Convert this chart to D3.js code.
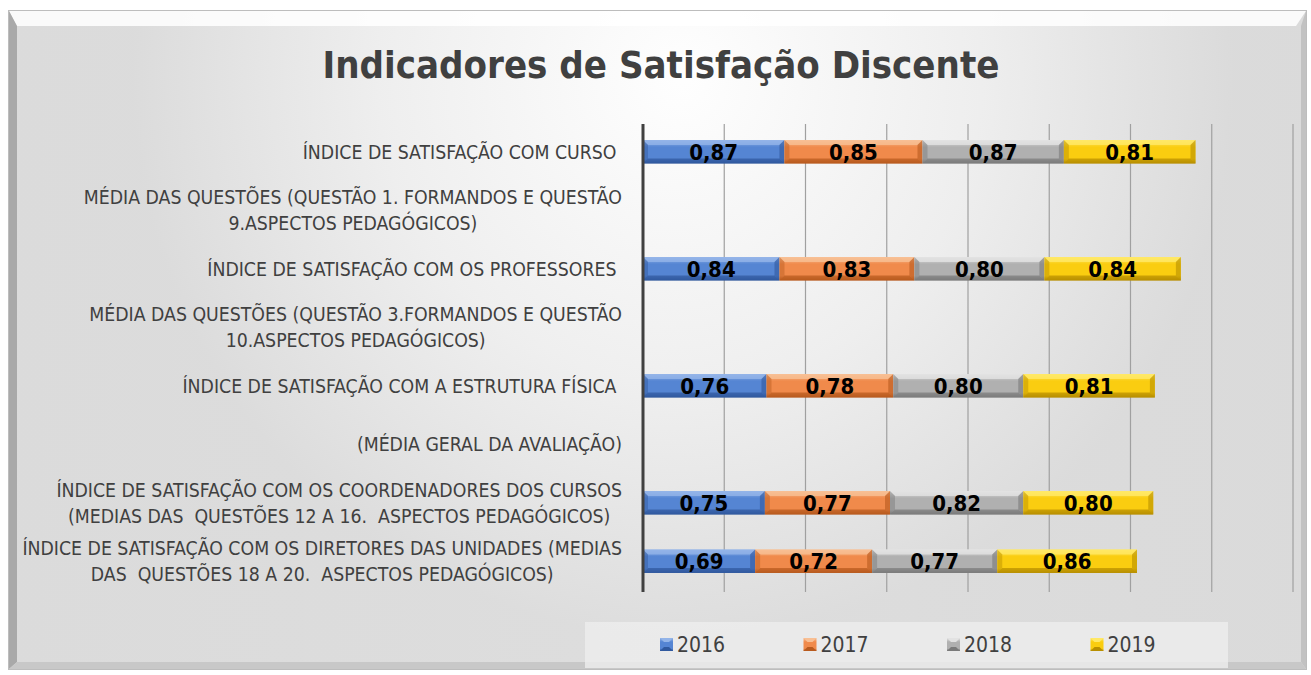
<!DOCTYPE html>
<html>
<head>
<meta charset="utf-8">
<script src="https://cdn.jsdelivr.net/npm/d3@7"></script>
<style>
  body { margin: 0; background: #fff; }
  text { font-family: "Liberation Sans Narrow", "DejaVu Sans Condensed", "Noto Sans", sans-serif; }
</style>
</head>
<body>
<div id="chart"></div>
<script>
// categories, top to bottom (trailing spaces kept as in the original labels)
var categories = [
  ["ÍNDICE DE SATISFAÇÃO COM CURSO "],
  ["MÉDIA DAS QUESTÕES (QUESTÃO 1. FORMANDOS E QUESTÃO", "9.ASPECTOS PEDAGÓGICOS)"],
  ["ÍNDICE DE SATISFAÇÃO COM OS PROFESSORES "],
  ["MÉDIA DAS QUESTÕES (QUESTÃO 3.FORMANDOS E QUESTÃO", "10.ASPECTOS PEDAGÓGICOS)"],
  ["ÍNDICE DE SATISFAÇÃO COM A ESTRUTURA FÍSICA "],
  ["(MÉDIA GERAL DA AVALIAÇÃO)"],
  ["ÍNDICE DE SATISFAÇÃO COM OS COORDENADORES DOS CURSOS", "(MEDIAS DAS  QUESTÕES 12 A 16.  ASPECTOS PEDAGÓGICOS)"],
  ["ÍNDICE DE SATISFAÇÃO COM OS DIRETORES DAS UNIDADES (MEDIAS", "DAS  QUESTÕES 18 A 20.  ASPECTOS PEDAGÓGICOS)"]
];
var years = ["2016", "2017", "2018", "2019"];
var v2016 = [0.87, null, 0.84, null, 0.76, null, 0.75, 0.69];
var v2017 = [0.85, null, 0.83, null, 0.78, null, 0.77, 0.72];
var v2018 = [0.87, null, 0.80, null, 0.80, null, 0.82, 0.77];
var v2019 = [0.81, null, 0.84, null, 0.81, null, 0.80, 0.86];
var series = [v2016, v2017, v2018, v2019];

var colors = [
  {base: "#5585D3", light: "#93B4E8", dark: "#30599E"},
  {base: "#F08A4B", light: "#F8BF94", dark: "#B85A1E"},
  {base: "#B0B0B0", light: "#E2E2E2", dark: "#7A7A7A"},
  {base: "#FACD10", light: "#FFE866", dark: "#B88F00"}
];

var width = 1311, height = 675;
var svg = d3.select("#chart").append("svg")
  .attr("width", width).attr("height", height);

var defs = svg.append("defs");
var bg = defs.append("radialGradient").attr("id", "bg")
  .attr("cx", "0.52").attr("cy", "0.1").attr("r", "0.85")
  .attr("gradientTransform", "translate(0.26,0) scale(0.5,1)");
bg.append("stop").attr("offset", "0").attr("stop-color", "#ffffff");
bg.append("stop").attr("offset", "0.55").attr("stop-color", "#eeeeee");
bg.append("stop").attr("offset", "1").attr("stop-color", "#dadada");

var bgLin = defs.append("linearGradient").attr("id", "bgLin").attr("x1", 0).attr("x2", 1).attr("y1", 0).attr("y2", 0);
bgLin.append("stop").attr("offset", "0").attr("stop-color", "#e4e4e4");
bgLin.append("stop").attr("offset", "0.5").attr("stop-color", "#fafafa");
bgLin.append("stop").attr("offset", "1").attr("stop-color", "#dcdcdc");

colors.forEach(function(c, i) {
  var g = defs.append("linearGradient").attr("id", "bar" + i)
    .attr("x1", 0).attr("x2", 0).attr("y1", 0).attr("y2", 1);
  g.append("stop").attr("offset", "0").attr("stop-color", c.light);
  g.append("stop").attr("offset", "0.3").attr("stop-color", c.base);
  g.append("stop").attr("offset", "0.8").attr("stop-color", c.base);
  g.append("stop").attr("offset", "1").attr("stop-color", c.dark);
});

// chart area with bevelled frame
svg.append("rect").attr("x", 8).attr("y", 10).attr("width", 1299).attr("height", 660)
  .attr("fill", "#bdbdbd");
svg.append("rect").attr("x", 9).attr("y", 11).attr("width", 1297).attr("height", 658)
  .attr("fill", "url(#bgLin)");
svg.append("rect").attr("x", 9).attr("y", 11).attr("width", 1297).attr("height", 658)
  .attr("fill", "url(#bg)").attr("opacity", 0.9);
svg.append("polygon").attr("points", "9,11 1306,11 1296,26 17,26").attr("fill", "#ffffff").attr("opacity", 0.85);
svg.append("polygon").attr("points", "9,11 17,26 17,662 9,669").attr("fill", "#a9a9a9");
svg.append("polygon").attr("points", "1306,11 1306,669 1301,662 1301,26").attr("fill", "#c2c2c2");
svg.append("polygon").attr("points", "9,669 17,662 1301,662 1306,669").attr("fill", "#c8c8c8");

// title
svg.append("text").attr("x", 661).attr("y", 78).attr("text-anchor", "middle")
  .style("font-size", "38px").style("font-weight", "bold").style("fill", "#404040")
  .text("Indicadores de Satisfação Discente");

var x = d3.scaleLinear().domain([0, 4]).range([643, 1293]);
var y = d3.scaleBand().domain(d3.range(categories.length)).range([122.5, 590.5])
  .paddingInner(0.6).paddingOuter(0.3);

// gridlines
svg.append("g").selectAll("line").data(d3.range(0.5, 4.01, 0.5)).join("line")
  .attr("x1", d => x(d)).attr("x2", d => x(d))
  .attr("y1", 124).attr("y2", 592)
  .attr("stroke", "#a0a0a0").attr("stroke-width", 1.2);

// category labels
var lab = svg.append("g").selectAll("text").data(categories).join("text")
  .attr("text-anchor", "end")
  .style("font-size", "19.3px").style("fill", "#404040")
  .style("white-space", "pre");
lab.each(function(lines, i) {
  var cy = y(i) + y.bandwidth() / 2;
  var lh = 26;
  var t = d3.select(this);
  lines.forEach(function(l, j) {
    var ly = cy + (j - (lines.length - 1) / 2) * lh + 7;
    t.append("tspan").attr("x", 622).attr("y", ly).text(l);
  });
});
// two-line labels: center every line under the first one
lab.each(function(lines) {
  if (lines.length < 2) return;
  var spans = d3.select(this).selectAll("tspan").nodes();
  var w0 = spans[0].getComputedTextLength();
  var cx = 622 - w0 / 2;
  spans.forEach(function(s) {
    d3.select(s).attr("x", cx).attr("text-anchor", "middle");
  });
});

// stacked segments
var stacked = categories.map(function(c, i) {
  var acc = 0;
  return series.map(function(s, k) {
    var v = s[i];
    if (v == null) return null;
    var seg = {row: i, k: k, v: v, x0: acc, x1: acc + v};
    acc += v;
    return seg;
  }).filter(d => d);
});
var segs = [].concat.apply([], stacked);

var bars = svg.append("g").selectAll("g").data(segs).join("g");
bars.each(function(d) {
  var g = d3.select(this);
  var x0 = x(d.x0), x1 = x(d.x1), y0 = y(d.row), h = y.bandwidth(), y1 = y0 + h;
  var b = 5, c = colors[d.k];
  g.append("rect").attr("x", x0).attr("y", y0).attr("width", x1 - x0).attr("height", h)
    .attr("fill", "url(#bar" + d.k + ")");
  g.append("polygon").attr("points", [[x0, y0], [x1, y0], [x1 - b, y0 + b], [x0 + b, y0 + b]].join(" "))
    .attr("fill", c.light).attr("opacity", 0.8);
  g.append("polygon").attr("points", [[x0, y1], [x1, y1], [x1 - b, y1 - b], [x0 + b, y1 - b]].join(" "))
    .attr("fill", c.dark).attr("opacity", 0.7);
  g.append("polygon").attr("points", [[x0, y0], [x0 + b, y0 + b], [x0 + b, y1 - b], [x0, y1]].join(" "))
    .attr("fill", c.dark).attr("opacity", 0.45);
  g.append("polygon").attr("points", [[x1, y0], [x1 - b, y0 + b], [x1 - b, y1 - b], [x1, y1]].join(" "))
    .attr("fill", c.dark).attr("opacity", 0.6);
  g.append("text").attr("x", (x0 + x1) / 2).attr("y", y0 + h / 2 + 8)
    .attr("text-anchor", "middle")
    .style("font-size", "22px").style("font-weight", "bold").style("fill", "#000")
    .text(d3.format(".2f")(d.v).replace(".", ","));
});

// vertical axis line
svg.append("line").attr("x1", x(0)).attr("x2", x(0)).attr("y1", 124).attr("y2", 592)
  .attr("stroke", "#404040").attr("stroke-width", 3);

// legend
svg.append("rect").attr("x", 585).attr("y", 622).attr("width", 643).attr("height", 46)
  .attr("fill", "#ededed").attr("opacity", 0.8);
var leg = svg.append("g").selectAll("g").data(years).join("g")
  .attr("transform", (d, i) => "translate(" + (660 + i * 143.5) + ",644)");
leg.append("rect").attr("x", 0).attr("y", -6).attr("width", 13).attr("height", 13)
  .attr("fill", (d, i) => "url(#bar" + i + ")");
leg.append("polygon").attr("points", "0,-6 13,-6 9,-2 4,-2").attr("fill", (d, i) => colors[i].light);
leg.append("polygon").attr("points", "0,7 13,7 9,3 4,3").attr("fill", (d, i) => colors[i].dark);
leg.append("text").attr("x", 17).attr("y", 8)
  .style("font-size", "21px").style("fill", "#404040")
  .text(d => d);
</script>
</body>
</html>
